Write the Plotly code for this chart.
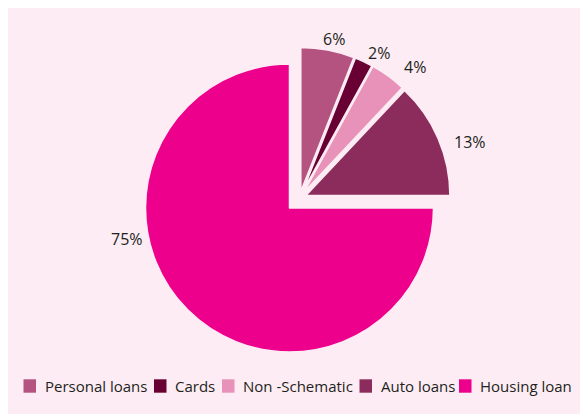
import plotly.graph_objects as go

# ---- data ----
categories = ["Personal loans", "Cards", "Non -Schematic", "Auto loans", "Housing loan"]
shares = [6, 2, 4, 13, 75]
colors = ["#b45280", "#680034", "#e892ba", "#8c2c5c", "#ec008c"]
exploded = [True, True, True, True, False]

# ---- layout constants (page pixels; figure sits 8px into the page) ----
W, H = 580, 406
OFF = 8
BG = "#fdecf4"
TXT = "#231f20"
FONT = "Open Sans"
CX, CY, R = 289.5, 208.0, 144.0          # main pie centre / radius
GROUP_SHIFT = (10.0, -9.7)               # offset of the exploded group
PULL_PX = 7.0                            # individual pull of exploded slices
label_pos = [(334, 39), (379, 53), (414.5, 67), (470, 142), (126.5, 239)]
legend_swatch_x = [23.5, 154, 222, 359.5, 459]
LEGEND_Y = 386
TRANSPARENT = "rgba(0,0,0,0)"


def px(x):
    return (x - OFF) / W


def py(y):
    return 1 - (y - OFF) / H


def dom(cx, cy, half):
    return dict(x=[px(cx - half), px(cx + half)],
                y=[py(cy + half), py(cy - half)])


fig = go.Figure()

# main (non-exploded) part
fig.add_trace(go.Pie(
    labels=categories, values=shares, sort=False, direction="clockwise", rotation=0,
    marker=dict(colors=[TRANSPARENT if e else c for c, e in zip(colors, exploded)],
                line=dict(color=BG, width=[0 if e else 1.5 for e in exploded])),
    textinfo="none", showlegend=False,
    domain=dom(CX, CY, R),
))

# exploded group
pull = PULL_PX / R
fig.add_trace(go.Pie(
    labels=categories, values=shares, sort=False, direction="clockwise", rotation=0,
    marker=dict(colors=[c if e else TRANSPARENT for c, e in zip(colors, exploded)],
                line=dict(color=BG, width=[1.5 if e else 0 for e in exploded])),
    pull=[pull if e else 0 for e in exploded],
    textinfo="none", showlegend=False,
    domain=dom(CX + GROUP_SHIFT[0], CY + GROUP_SHIFT[1], R * (1 + pull)),
))

shapes = []
annotations = []

# percentage labels
for v, (lx, ly) in zip(shares, label_pos):
    annotations.append(dict(xref="paper", yref="paper", x=px(lx), y=py(ly),
                            text=f"{v}%", showarrow=False, xanchor="center", yanchor="middle",
                            font=dict(family=FONT, size=16, color=TXT)))

# legend
for name, c, sx in zip(categories, colors, legend_swatch_x):
    shapes.append(dict(type="rect", xref="paper", yref="paper",
                       x0=px(sx), x1=px(sx + 12.5),
                       y0=py(LEGEND_Y + 6.7), y1=py(LEGEND_Y - 6.7),
                       fillcolor=c, line=dict(width=0)))
    annotations.append(dict(xref="paper", yref="paper", x=px(sx + 19), y=py(LEGEND_Y),
                            text=name, showarrow=False, xanchor="left", yanchor="middle",
                            font=dict(family=FONT, size=15, color=TXT)))

fig.update_layout(
    width=W, height=H, margin=dict(l=0, r=0, t=0, b=0),
    paper_bgcolor=BG, plot_bgcolor=BG,
    showlegend=False, shapes=shapes, annotations=annotations,
)

fig.write_html("out.html")
